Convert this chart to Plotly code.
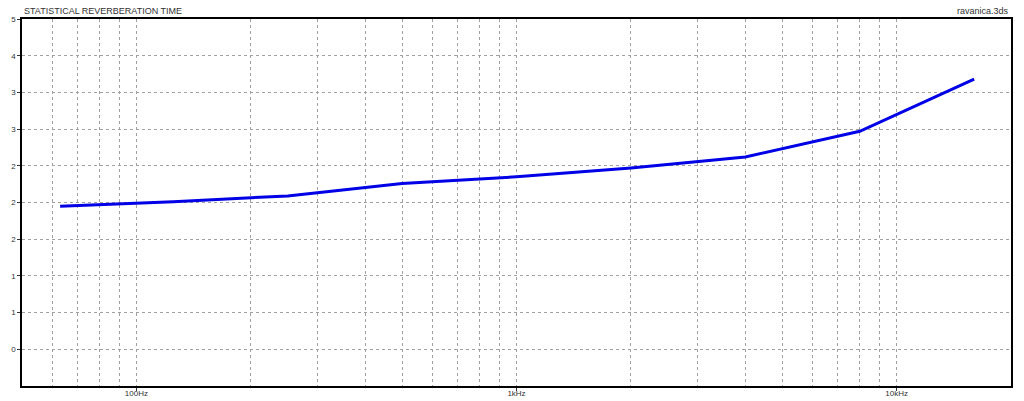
import plotly.graph_objects as go

# Octave-band centre frequencies (Hz) and reverberation time values
freqs = [63, 125, 250, 500, 1000, 2000, 4000, 8000, 16000]
rt_values = [2.45, 2.51, 2.59, 2.76, 2.85, 2.97, 3.12, 3.47, 4.18]

# Axis ticks
x_major_vals = [100, 1000, 10000]
x_major_text = ["100Hz", "1kHz", "10kHz"]
x_minor_vals = [60, 70, 80, 90, 200, 300, 400, 500, 600, 700, 800, 900,
                2000, 3000, 4000, 5000, 6000, 7000, 8000, 9000]
y_tick_vals = [0.5, 1.0, 1.5, 2.0, 2.5, 3.0, 3.5, 4.0, 4.5, 5.0]
y_tick_text = ["0", "1", "1", "2", "2", "2", "3", "3", "4", "5"]

title_text = "STATISTICAL REVERBERATION TIME"
file_text = "ravanica.3ds"

grid_color = "#a0a0a0"
font_family = "Liberation Sans, Arial, sans-serif"

fig = go.Figure()
fig.add_trace(go.Scatter(
    x=freqs, y=rt_values, mode="lines",
    line=dict(color="#0000e6", width=3),
    hoverinfo="x+y", showlegend=False,
))

fig.update_layout(
    width=1024, height=401,
    margin=dict(l=22, r=13, t=19, b=15, autoexpand=False),
    paper_bgcolor="white", plot_bgcolor="white",
    font=dict(family=font_family, size=9, color="#333333"),
    xaxis=dict(
        type="log", automargin=False,
        range=[1.69897, 4.30103],
        tickmode="array", tickvals=x_major_vals, ticktext=x_major_text,
        ticks="outside", ticklen=3, tickcolor="#333333",
        ticklabelstandoff=-4,
        showgrid=True, gridcolor=grid_color, griddash="3px,3px", gridwidth=1,
        minor=dict(tickmode="array", tickvals=x_minor_vals, showgrid=True,
                   gridcolor=grid_color, griddash="3px,3px", gridwidth=1, ticks=""),
        showline=True, linecolor="black", linewidth=1.5, mirror=True,
        tickfont=dict(size=8, color="#333333"),
        zeroline=False,
    ),
    yaxis=dict(
        automargin=False,
        range=[0, 5],
        tickmode="array", tickvals=y_tick_vals, ticktext=y_tick_text,
        ticks="outside", ticklen=3, tickcolor="#333333",
        showgrid=True, gridcolor=grid_color, griddash="3px,3px", gridwidth=1,
        showline=True, linecolor="black", linewidth=1.5, mirror=True,
        tickfont=dict(size=8, color="#333333"),
        zeroline=False,
    ),
    annotations=[
        dict(text=title_text, xref="paper", yref="paper", x=0, y=1,
             xanchor="left", yanchor="bottom", yshift=1, showarrow=False,
             font=dict(size=9, color="#333333", family=font_family)),
        dict(text=file_text, xref="paper", yref="paper", x=1, y=1,
             xanchor="right", yanchor="bottom", yshift=1, showarrow=False,
             font=dict(size=9, color="#333333", family=font_family)),
    ],
)

fig.write_html("out.html",
               config={"displayModeBar": False},
               post_script="document.body.style.margin='0';document.body.style.overflow='hidden';")
